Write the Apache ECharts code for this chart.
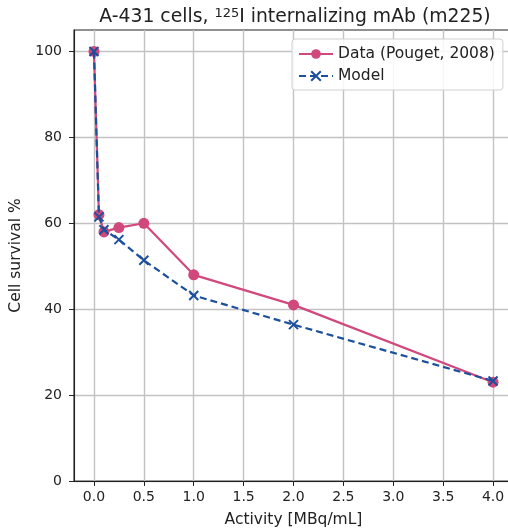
<!DOCTYPE html>
<html lang="en">
<head>
    <meta charset="UTF-8">
    <title>A-431 cells</title>
    <style>
        * { margin: 0; padding: 0; }
        html, body { width: 100%; height: 100%; background: #fff; }
        #charts { width: 508px; height: 530px; }
    </style>
    <script src="https://cdn.jsdelivr.net/npm/echarts@6/dist/echarts.min.js"></script>
</head>
<body>
<div id="charts"></div>
<script>
    // activity [MBq/mL]
    var activity = [0, 0.05, 0.1, 0.25, 0.5, 1, 2, 4];
    // cell survival %
    var dataSurvival = [100, 62, 58, 59, 60, 48, 41, 23];
    var modelSurvival = [100, 61.5, 58.5, 56.2, 51.4, 43.2, 36.4, 23.3];
    var xTicks = [0, 0.5, 1, 1.5, 2, 2.5, 3, 3.5, 4];
    var yTicks = [0, 20, 40, 60, 80, 100];

    var font = 'DejaVu Sans';
    var pink = '#d1487c';
    var blue = '#1c4f9c';

    function pairs(xs, ys) {
        var out = [];
        for (var i = 0; i < xs.length; i++) out.push([xs[i], ys[i]]);
        return out;
    }

    var option = {
        animation: false,
        textStyle: { fontFamily: font },
        title: {
            text: '{a|A-431 cells, }{sup|125}{a|I internalizing mAb (m225)}',
            left: 290,
            top: 2,
            textAlign: 'center',
            textStyle: {
                fontWeight: 'normal',
                rich: {
                    a: { fontFamily: font, fontSize: 18.8, fontWeight: 'normal', color: '#222', verticalAlign: 'bottom' },
                    sup: { fontFamily: font, fontSize: 13, fontWeight: 'normal', color: '#222', verticalAlign: 'top', padding: [0, 0, 7, 0] }
                }
            }
        },
        legend: {
            orient: 'vertical',
            left: 292,
            top: 39,
            padding: [7, 8, 6, 6],
            itemGap: 6,
            itemWidth: 34,
            itemHeight: 12,
            backgroundColor: 'rgba(255,255,255,0.85)',
            borderColor: '#d0d0d0',
            borderWidth: 1,
            borderRadius: 3,
            textStyle: { fontFamily: font, fontSize: 15.5, color: '#222' },
            data: ['Data (Pouget, 2008)', 'Model']
        },
        grid: {
            left: 74,
            top: 30,
            width: 439,
            height: 451,
            show: true,
            borderColor: '#222',
            borderWidth: 1.1,
            containLabel: false,
            outerBoundsMode: 'none'
        },
        xAxis: {
            type: 'value',
            min: -0.2,
            max: 4.2,
            name: 'Activity [MBq/mL]',
            nameLocation: 'middle',
            nameGap: 31,
            nameTextStyle: { fontFamily: font, fontSize: 15.5, color: '#222' },
            axisLine: { show: true, onZero: false, lineStyle: { color: '#222', width: 1.1 } },
            axisTick: { show: true, length: 5, customValues: xTicks, lineStyle: { color: '#222' } },
            axisLabel: {
                customValues: xTicks,
                fontFamily: font, fontSize: 14, color: '#222', margin: 9,
                formatter: function (v) { return v.toFixed(1); }
            },
            splitLine: { show: true, customValues: xTicks, lineStyle: { color: '#c2c2c2', width: 1.4 } }
        },
        yAxis: {
            type: 'value',
            min: 0,
            max: 105,
            interval: 20,
            name: 'Cell survival %',
            nameLocation: 'middle',
            nameGap: 42,
            nameTextStyle: { fontFamily: font, fontSize: 15.5, color: '#222' },
            axisLine: { show: true, onZero: false, lineStyle: { color: '#222', width: 1.1 } },
            axisTick: { show: true, length: 5, customValues: yTicks, lineStyle: { color: '#222' } },
            axisLabel: { customValues: yTicks, fontFamily: font, fontSize: 14, color: '#222', margin: 12 },
            splitLine: { show: true, lineStyle: { color: '#c2c2c2', width: 1.4 } }
        },
        series: [
            {
                name: 'Data (Pouget, 2008)',
                type: 'line',
                data: pairs(activity, dataSurvival),
                symbol: 'circle',
                symbolSize: 11,
                showAllSymbol: true,
                itemStyle: { color: pink },
                lineStyle: { color: pink, width: 2.2 },
                z: 2
            },
            {
                name: 'Model',
                type: 'line',
                data: pairs(activity, modelSurvival),
                symbol: 'path://M0,0L10,10M10,0L0,10',
                symbolSize: 9,
                showAllSymbol: true,
                itemStyle: { color: blue, borderColor: blue, borderWidth: 2 },
                lineStyle: { color: blue, width: 2.2, type: [7, 4] },
                z: 3
            }
        ]
    };

    var myChart = echarts.init(document.getElementById('charts'));
    myChart.setOption(option);
</script>
</body>
</html>
